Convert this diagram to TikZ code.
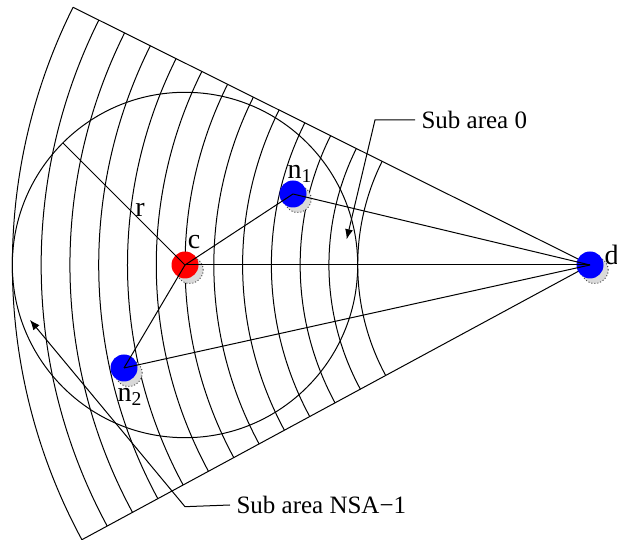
\documentclass[tikz,border=0pt]{standalone}
\usepackage{fontspec}
\setmainfont{Liberation Serif}
\usetikzlibrary{arrows.meta}
\tikzset{
  dot/.style={circle, minimum size=13.5pt, inner sep=0pt},
  ghost/.style={circle, minimum size=13.5pt, inner sep=0pt, draw=black!70, densely dotted, fill=black!15},
  lbl/.style={font=\fontsize{14}{14}\selectfont, inner sep=0pt},
  callout/.style={font=\fontsize{12.5}{14}\selectfont, inner sep=0pt, anchor=west},
  pointer/.style={-{Latex[length=5pt,width=4pt]}}
}
\begin{document}
\begin{tikzpicture}[x=0.5pt, y=0.5pt, line width=0.5pt]
    \useasboundingbox (0,0) rectangle (617,540);
    \coordinate (pd) at (590,275);
    \coordinate (pc) at (185,275);
    \coordinate (pn1) at (293,346);
    \coordinate (pn2) at (124,172);
    \coordinate (top) at ([shift={(pd)}]153.5:577.7);
    \coordinate (bot) at ([shift={(pd)}]208.4:577.7);
    \coordinate (rend) at ([shift={(pc)}]135:172.7);

    % Sub areas
    \draw (top) -- (pd) -- (bot);
    \foreach \i in {0,...,12} {
        \pgfmathsetmacro\rr{232.3+28.78*\i}
        \draw ([shift={(pd)}]153.5:\rr) arc[start angle=153.5, end angle=208.4, radius=\rr];
    }
    \draw (pc) circle[radius=172.7];

    % Points
    \node[ghost] at ([shift={(4.7,-5)}]pc) {};
    \node[ghost] at ([shift={(4.7,-5)}]pn1) {};
    \node[ghost] at ([shift={(4.7,-5)}]pn2) {};
    \node[ghost] at ([shift={(4.7,-5)}]pd) {};
    \node[dot, fill=red] (c) at (pc) {};
    \node[dot, fill=blue] (n1) at (pn1) {};
    \node[dot, fill=blue] (n2) at (pn2) {};
    \node[dot, fill=blue] (d) at (pd) {};

    % Lines
    \draw (rend) -- (c.center);
    \draw (c.center) -- (d.center);
    \draw (c.center) -- (n1.center);
    \draw (c.center) -- (n2.center);
    \draw (n1.center) -- (d.center);
    \draw (n2.center) -- (d.center);

    % Labels
    \node[lbl] (rlab) at (140,330) {r};
    \node[lbl] (clab) at (194,298) {c};
    \node[lbl] (n1lab) at (300,366) {n\textsubscript{1}};
    \node[lbl] (n2lab) at (130,143) {n\textsubscript{2}};
    \node[lbl, anchor=west] (dlab) at (604,285) {d};

    \node[callout] (sa0) at (421,420) {Sub area 0};
    \node[callout] (sanm) at (236,35) {Sub area NSA−1};
    \draw[pointer] ([xshift=-3pt]sa0.west) -- (375,420) -- (346.7,300.7);
    \draw[pointer] ([xshift=-3pt]sanm.west) -- (185,33.3) -- (30,220);
\end{tikzpicture}
\end{document}
